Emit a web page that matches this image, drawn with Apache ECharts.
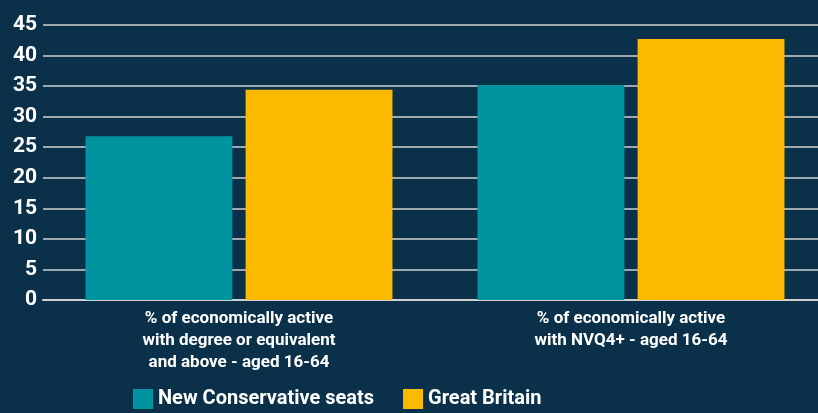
<!DOCTYPE html>
<html><head><meta charset="utf-8">
<script src="https://cdn.jsdelivr.net/npm/echarts@6/dist/echarts.min.js"></script>
<style>html,body{margin:0;padding:0;background:#0a3149;}#c{width:818px;height:413px;}</style>
</head><body><div id="c"></div>
<script>
const categories = ["% of economically active\nwith degree or equivalent\nand above - aged 16-64", "% of economically active\nwith NVQ4+ - aged 16-64"];
const seriesNames = ["New Conservative seats", "Great Britain"];
const newConservative = [26.8, 35.2];
const greatBritain = [34.4, 42.7];
const yTicks = [0, 5, 10, 15, 20, 25, 30, 35, 40, 45];
const FONT = "'Roboto', sans-serif";
const chart = echarts.init(document.getElementById('c'));
chart.setOption({
  backgroundColor: '#0a3149',
  animation: false,
  textStyle: {fontFamily: FONT},
  grid: {left: 43, width: 784, top: 25, bottom: 113, outerBoundsMode: 'none', containLabel: false},
  legend: {
    data: seriesNames, top: 384, left: 128, itemWidth: 20, itemHeight: 20, itemGap: 29, icon: 'rect',
    textStyle: {color: '#fff', fontSize: 20, fontWeight: 'bold', fontFamily: FONT}
  },
  xAxis: {
    type: 'category', data: categories,
    axisLine: {show: true, lineStyle: {color: '#d0d0d0', width: 2}},
    axisTick: {show: false},
    axisLabel: {color: '#fff', fontSize: 17, fontWeight: 'bold', lineHeight: 22, margin: 8, interval: 0, align: 'center', fontFamily: FONT}
  },
  yAxis: {
    type: 'value', min: yTicks[0], max: yTicks[yTicks.length - 1], interval: 5,
    axisLine: {show: false}, axisTick: {show: false},
    splitLine: {lineStyle: {color: '#d0d0d0', width: 1.5}},
    axisLabel: {color: '#fff', fontSize: 21, fontWeight: 'bold', margin: 6, fontFamily: FONT}
  },
  series: [
    {name: seriesNames[0], type: 'bar', data: newConservative, barGap: '9%', barCategoryGap: '21.7%', itemStyle: {color: '#0093a0'}},
    {name: seriesNames[1], type: 'bar', data: greatBritain, itemStyle: {color: '#fbba00'}}
  ]
});
</script></body></html>
